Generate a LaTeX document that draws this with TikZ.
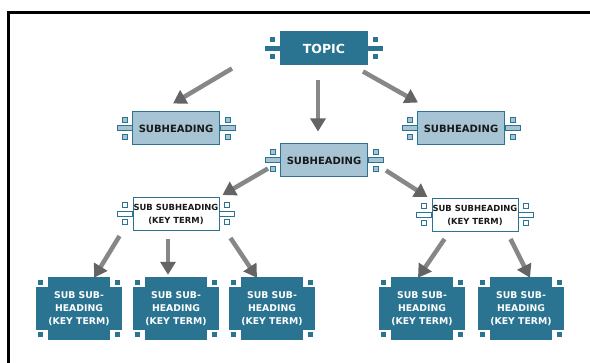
\documentclass[tikz,border=0pt]{standalone}
\usepackage{fontspec}
\setmainfont{DejaVu Sans}
\usetikzlibrary{calc,arrows.meta,backgrounds}
\definecolor{teal1}{RGB}{42,116,146}
\definecolor{light1}{RGB}{166,196,211}
\definecolor{arrowgray}{RGB}{135,135,135}
\definecolor{tipgray}{RGB}{100,100,100}
\definecolor{ink}{RGB}{25,25,25}
\tikzset{
  chipbox/.style={draw=teal1, line width=1pt, minimum width=87, minimum height=33, inner sep=0pt},
  topicbox/.style={chipbox, fill=teal1, text=white, font=\bfseries\fontsize{12.5}{14}\selectfont},
  subbox/.style={chipbox, fill=light1, text=ink, font=\bfseries\fontsize{10}{12}\selectfont},
  keybox/.style={chipbox, fill=white, text=ink, minimum width=86, minimum height=33, align=center, font=\bfseries\fontsize{8.4}{13}\selectfont},
  leafbox/.style={fill=teal1, text=white, minimum width=58, minimum height=63, inner sep=0pt, align=center, font=\bfseries\fontsize{9.3}{13}\selectfont},
  darkpart/.style={fill=teal1},
  lightpart/.style={fill=light1, draw=teal1, line width=1pt},
  whitepart/.style={fill=white, draw=teal1, line width=1pt},
  arr/.style={draw=arrowgray, line width=4.5pt, -{Triangle[length=13pt,width=15pt,color=tipgray]}},
  frameline/.style={line width=3pt, black}
}
\newcommand{\chipdeco}[2]{%
  \foreach \sgn/\anc in {-1/west,1/east}{%
    \path[#2] ($(#1.\anc)+(0,-2.5)$) rectangle ($(#1.\anc)+(15*\sgn,2.5)$);
    \path[#2] ($(#1.\anc)+(5*\sgn,-11)$) rectangle ($(#1.\anc)+(10*\sgn,-6)$);
    \path[#2] ($(#1.\anc)+(5*\sgn,6)$) rectangle ($(#1.\anc)+(10*\sgn,11)$);
  }}
\newcommand{\leafdeco}[1]{%
  \begin{scope}[on background layer]
    \fill[teal1] ($(#1.west)+(-12,-21.5)$) rectangle ($(#1.east)+(12,21.5)$);
    \fill[teal1] ($(#1.north west)+(-10,3)$) rectangle ($(#1.north west)+(-5,8)$);
    \fill[teal1] ($(#1.north east)+(5,3)$) rectangle ($(#1.north east)+(10,8)$);
    \fill[teal1] ($(#1.south west)+(-10,-3)$) rectangle ($(#1.south west)+(-5,-8)$);
    \fill[teal1] ($(#1.south east)+(5,-3)$) rectangle ($(#1.south east)+(10,-8)$);
  \end{scope}}
\begin{document}
\begin{tikzpicture}[x=1pt,y=-1pt]
\useasboundingbox (0,0) rectangle (590,363);
\begin{scope}[on background layer]
\fill[white] (0,0) rectangle (590,363);
\end{scope}
\draw[frameline] (8.5,380) -- (8.5,12.5) -- (610,12.5);

\node[topicbox] (topic) at (324,48.5) {TOPIC};
\node[subbox] (sh1) at (176,128.5) {SUBHEADING};
\node[subbox] (sh2) at (324,160.5) {SUBHEADING};
\node[subbox] (sh3) at (461,128.5) {SUBHEADING};
\node[keybox] (key1) at (176,214) {SUB SUBHEADING\\(KEY TERM)};
\node[keybox] (key2) at (475,215) {SUB SUBHEADING\\(KEY TERM)};
\node[leafbox] (leaf1) at (79,308.5) {SUB SUB-\\HEADING\\(KEY TERM)};
\node[leafbox] (leaf2) at (176,308.5) {SUB SUB-\\HEADING\\(KEY TERM)};
\node[leafbox] (leaf3) at (272,308.5) {SUB SUB-\\HEADING\\(KEY TERM)};
\node[leafbox] (leaf4) at (422,308.5) {SUB SUB-\\HEADING\\(KEY TERM)};
\node[leafbox] (leaf5) at (521,308.5) {SUB SUB-\\HEADING\\(KEY TERM)};

\chipdeco{topic}{darkpart}
\chipdeco{sh1}{lightpart}
\chipdeco{sh2}{lightpart}
\chipdeco{sh3}{lightpart}
\chipdeco{key1}{whitepart}
\chipdeco{key2}{whitepart}
\leafdeco{leaf1}
\leafdeco{leaf2}
\leafdeco{leaf3}
\leafdeco{leaf4}
\leafdeco{leaf5}

\draw[arr] ($(topic.south west)+(-48,3)$) -- ($(sh1.north)+(-3,-8)$);
\draw[arr] ($(topic.south)+(-6,15)$) -- ($(sh2.north)+(-6,-12)$);
\draw[arr] ($(topic.south east)+(-5,6)$) -- ($(sh3.north west)+(1,-9)$);
\draw[arr] ($(sh2.west)+(-12,8)$) -- ($(key1.north east)+(3,-2)$);
\draw[arr] ($(sh2.east)+(18,10)$) -- ($(key2.north west)+(-4,-1)$);
\draw[arr] ($(key1.south west)+(-13,5)$) -- ($(leaf1.north)+(15,1)$);
\draw[arr] ($(key1.south)+(-8,8)$) -- ($(leaf2.north)+(-8,-2)$);
\draw[arr] ($(key1.south east)+(11,7)$) -- ($(leaf3.north)+(-15,1)$);
\draw[arr] ($(key2.south west)+(13,7)$) -- ($(leaf4.north)+(-4,1)$);
\draw[arr] ($(key2.south east)+(-8,7)$) -- ($(leaf5.north)+(9,1)$);
\end{tikzpicture}
\end{document}
